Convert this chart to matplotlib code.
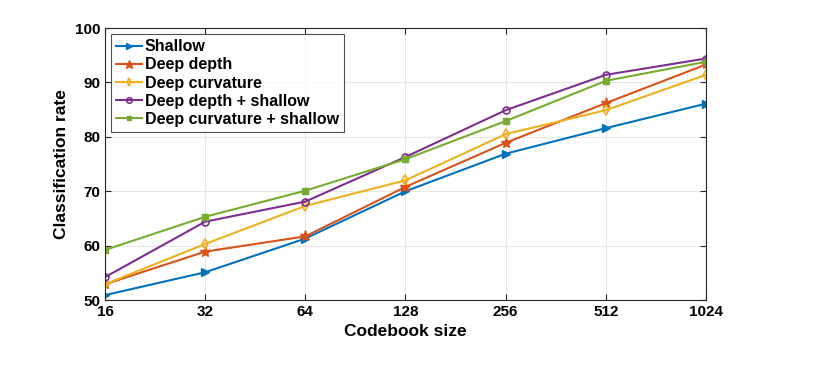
import numpy as np
import matplotlib
matplotlib.use('Agg')
import matplotlib.pyplot as plt

plt.rcParams['font.family'] = ['Liberation Sans', 'DejaVu Sans']
plt.rcParams['font.weight'] = 'bold'

codebook = [16, 32, 64, 128, 256, 512, 1024]
shallow = [50.9, 55.1, 61.3, 70.0, 76.9, 81.6, 86.1]
deep_depth = [52.9, 58.9, 61.7, 70.8, 78.9, 86.2, 93.3]
deep_curv = [52.9, 60.3, 67.3, 72.0, 80.5, 84.9, 91.4]
depth_shallow = [54.2, 64.4, 68.1, 76.3, 84.9, 91.4, 94.4]
curv_shallow = [59.2, 65.3, 70.1, 75.9, 82.9, 90.3, 93.8]

labels = ['Shallow', 'Deep depth', 'Deep curvature',
          'Deep depth + shallow', 'Deep curvature + shallow']

fig = plt.figure(figsize=(8.22, 3.79), dpi=100)
ax = fig.add_axes([0.1277, 0.2084, 0.7312, 0.7176])

x = np.log2(codebook)
ax.plot(x, shallow, '-', marker='>', color='#0072BD', lw=1.5, ms=6, label=labels[0])
ax.plot(x, deep_depth, '-', marker='*', color='#D95319', lw=1.5, ms=8, label=labels[1])
ax.plot(x, deep_curv, '-', marker='d', color='#EDB120', lw=1.5, ms=5,
        mfc='none', mew=1.2, label=labels[2])
ax.plot(x, depth_shallow, '-', marker='o', color='#7E2F8E', lw=1.5, ms=5,
        mfc='none', mew=1.2, label=labels[3])
ax.plot(x, curv_shallow, '-', marker='s', color='#77AC30', lw=1.5, ms=4, label=labels[4])

ax.set_xlim(x[0], x[-1])
ax.set_ylim(50, 100)
ax.set_xticks(x)
ax.set_xticklabels([str(c) for c in codebook])
ax.set_yticks([50, 60, 70, 80, 90, 100])
ax.tick_params(direction='in', labelsize=11, colors='#262626', length=4,
               top=True, right=True)
for lbl in ax.get_xticklabels() + ax.get_yticklabels():
    lbl.set_fontweight('bold')
    lbl.set_color('black')
for s in ax.spines.values():
    s.set_color('#262626')
    s.set_linewidth(0.8)
ax.grid(True, color='#e6e6e6', lw=0.8)
ax.set_axisbelow(True)

ax.set_xlabel('Codebook size', fontsize=12.5, fontweight='bold')
ax.set_ylabel('Classification rate', fontsize=12.5, fontweight='bold')

leg = ax.legend(loc='upper left', fontsize=11.5, frameon=True, fancybox=False,
                handlelength=1.6, handletextpad=0.2, borderpad=0.3,
                labelspacing=0.2, borderaxespad=0.4, markerscale=0.8)
leg.get_frame().set_edgecolor('#262626')
leg.get_frame().set_linewidth(0.8)
for t in leg.get_texts():
    t.set_fontweight('bold')

fig.savefig('out.png', dpi=100)
